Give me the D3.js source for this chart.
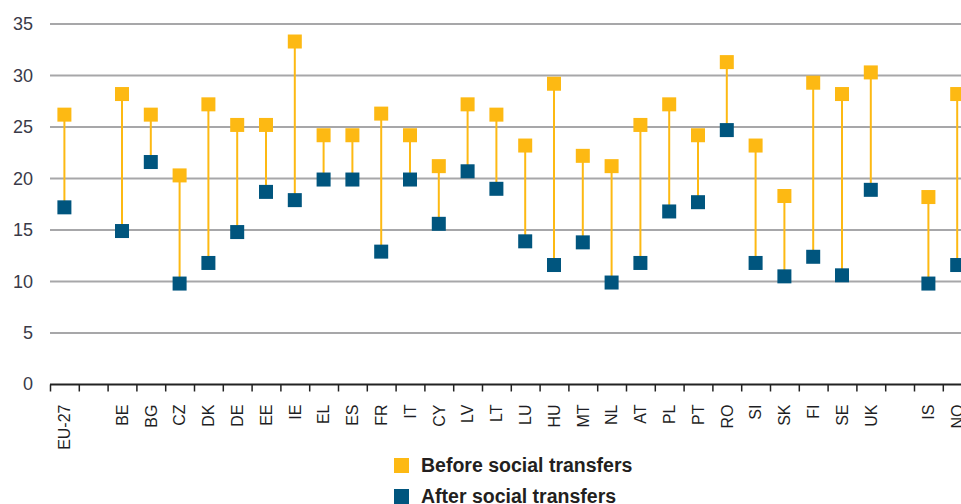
<!DOCTYPE html>
<html>
<head>
<meta charset="utf-8">
<script src="https://cdn.jsdelivr.net/npm/d3@7"></script>
<style>
  body { margin: 0; background: #fff; }
  svg { display: block; }
</style>
</head>
<body>
<svg id="chart" width="961" height="504"></svg>
<script>
// categories, blanks ("", " ") keep the gaps in the row
const countries = ["EU-27", "", "BE", "BG", "CZ", "DK", "DE", "EE", "IE", "EL", "ES", "FR", "IT",
  "CY", "LV", "LT", "LU", "HU", "MT", "NL", "AT", "PL", "PT", "RO", "SI", "SK", "FI", "SE", "UK",
  " ", "IS", "NO"];
const beforeTransfers = [26.2, null, 28.2, 26.2, 20.3, 27.2, 25.2, 25.2, 33.3, 24.2, 24.2, 26.3, 24.2,
  21.2, 27.2, 26.2, 23.2, 29.2, 22.2, 21.2, 25.2, 27.2, 24.2, 31.3, 23.2, 18.3, 29.3, 28.2, 30.3,
  null, 18.2, 28.2];
const afterTransfers = [17.2, null, 14.9, 21.6, 9.8, 11.8, 14.8, 18.7, 17.9, 19.9, 19.9, 12.9, 19.9,
  15.6, 20.7, 19, 13.9, 11.6, 13.8, 9.9, 11.8, 16.8, 17.7, 24.7, 11.8, 10.5, 12.4, 10.6, 18.9,
  null, 9.8, 11.6];
const yTicks = [0, 5, 10, 15, 20, 25, 30, 35];
const seriesNames = ["Before social transfers", "After social transfers"];

const orange = "#fdb913";
const blue = "#00557e";

const svg = d3.select("#chart");
const width = 961;

const x = d3.scaleBand()
  .domain(countries)
  .range([50, 50 + countries.length * 28.8]);

const y = d3.scaleLinear()
  .domain([0, 35])
  .range([384.5, 24]);

// grid lines
svg.append("g")
  .selectAll("line")
  .data(yTicks.filter(d => d > 0))
  .join("line")
  .attr("x1", 50)
  .attr("x2", width)
  .attr("y1", d => y(d))
  .attr("y2", d => y(d))
  .attr("stroke", "#a7a7a9")
  .attr("stroke-width", 2);

// y labels
svg.append("g")
  .selectAll("text")
  .data(yTicks)
  .join("text")
  .attr("x", 33)
  .attr("y", d => y(d) + (d === 0 ? -1 : 0))
  .attr("dy", "0.35em")
  .attr("text-anchor", "end")
  .attr("font-family", "Liberation Sans, Arial, sans-serif")
  .attr("font-size", 18)
  .attr("fill", "#3a3a48")
  .text(d => d);

// x axis line and ticks at band edges
const xAxis = svg.append("g");
xAxis.append("line")
  .attr("x1", 50)
  .attr("x2", width)
  .attr("y1", y(0))
  .attr("y2", y(0))
  .attr("stroke", "#222")
  .attr("stroke-width", 2);
xAxis.selectAll(".tick")
  .data(countries)
  .join("line")
  .attr("class", "tick")
  .attr("x1", d => x(d) + 0.5)
  .attr("x2", d => x(d) + 0.5)
  .attr("y1", y(0))
  .attr("y2", y(0) + 7)
  .attr("stroke", "#222")
  .attr("stroke-width", 1.5);

// country labels, rotated
xAxis.selectAll(".label")
  .data(countries.filter(d => d.trim() !== ""))
  .join("text")
  .attr("class", "label")
  .attr("transform", d => `translate(${x(d) + x.bandwidth() / 2},${y(0) + 20}) rotate(-90)`)
  .attr("dy", "0.36em")
  .attr("text-anchor", "end")
  .attr("font-family", "Liberation Sans, Arial, sans-serif")
  .attr("font-size", 16)
  .attr("fill", "#1e1e24")
  .text(d => d);

// pairs of values
const rows = countries.map((c, i) => ({ c, before: beforeTransfers[i], after: afterTransfers[i] }))
  .filter(d => d.before != null);

const marks = svg.append("g");
marks.selectAll("line")
  .data(rows)
  .join("line")
  .attr("x1", d => x(d.c) + x.bandwidth() / 2)
  .attr("x2", d => x(d.c) + x.bandwidth() / 2)
  .attr("y1", d => y(d.before))
  .attr("y2", d => y(d.after))
  .attr("stroke", orange)
  .attr("stroke-width", 2);

const sz = 14;
marks.selectAll(".after")
  .data(rows)
  .join("rect")
  .attr("class", "after")
  .attr("x", d => x(d.c) + x.bandwidth() / 2 - sz / 2)
  .attr("y", d => y(d.after) - sz / 2)
  .attr("width", sz)
  .attr("height", sz)
  .attr("fill", blue);

marks.selectAll(".before")
  .data(rows)
  .join("rect")
  .attr("class", "before")
  .attr("x", d => x(d.c) + x.bandwidth() / 2 - sz / 2)
  .attr("y", d => y(d.before) - sz / 2)
  .attr("width", sz)
  .attr("height", sz)
  .attr("fill", orange);

// legend
const legend = svg.append("g")
  .selectAll("g")
  .data(seriesNames)
  .join("g")
  .attr("transform", (d, i) => `translate(394,${458 + i * 31})`);
legend.append("rect")
  .attr("width", 15)
  .attr("height", 15)
  .attr("fill", (d, i) => i === 0 ? orange : blue);
legend.append("text")
  .attr("x", 27)
  .attr("y", 14)
  .attr("font-family", "Liberation Sans, Arial, sans-serif")
  .attr("font-weight", "bold")
  .attr("font-size", 19.5)
  .attr("fill", "#231f20")
  .text(d => d);
</script>
</body>
</html>
